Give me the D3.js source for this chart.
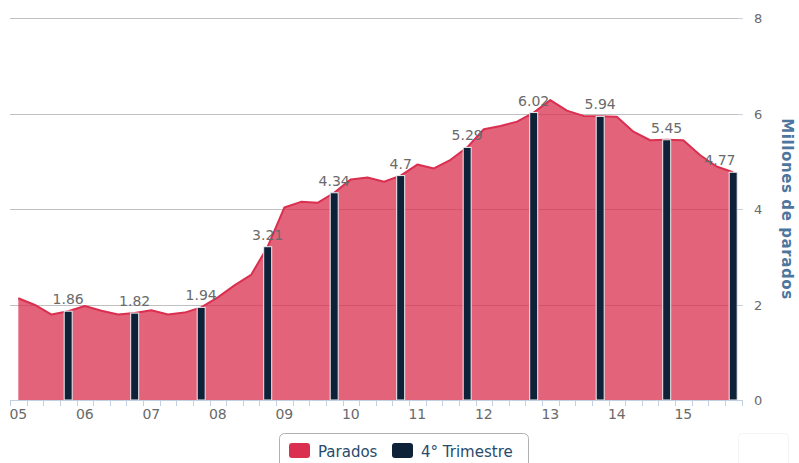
<!DOCTYPE html>
<html>
<head>
<meta charset="utf-8">
<script src="https://cdn.jsdelivr.net/npm/d3@7"></script>
<style>
  body { margin: 0; background: #fff; }
  svg { font-family: "DejaVu Sans", Verdana, sans-serif; }
</style>
</head>
<body>
<svg width="799" height="463"></svg>
<script>
// years shown on the axis
var years = ["05", "06", "07", "08", "09", "10", "11", "12", "13", "14", "15"];
var quarters = ["1", "2", "3", "4"];

// Parados (millones), one value per quarter
var parados = [
  2.13, 1.99, 1.79, 1.86,
  1.97, 1.87, 1.79, 1.82,
  1.88, 1.79, 1.83, 1.94,
  2.15, 2.40, 2.62, 3.21,
  4.03, 4.15, 4.13, 4.34,
  4.62, 4.66, 4.57, 4.70,
  4.93, 4.85, 5.03, 5.29,
  5.67, 5.74, 5.83, 6.02,
  6.28, 6.06, 5.95, 5.94,
  5.93, 5.62, 5.44, 5.45,
  5.44, 5.13, 4.89, 4.77
];

// 4º trimestre values (labels over the bars)
var cuartoTrim = [1.86, 1.82, 1.94, 3.21, 4.34, 4.7, 5.29, 6.02, 5.94, 5.45, 4.77];

var yTicks = [0, 2, 4, 6, 8];

var cats = [];
years.forEach(function(y) { quarters.forEach(function(q) { cats.push(y + "T" + q); }); });

var svg = d3.select("svg"),
    pLeft = 10, pRight = 741.5, pTop = 18, pBottom = 400;

var x = d3.scaleBand().domain(cats).range([pLeft, pRight]);
var y = d3.scaleLinear().domain([0, 8]).range([pBottom, pTop]);
var cx = function(c) { return x(c) + x.bandwidth() / 2; };

// grid lines
svg.append("g").selectAll("line")
    .data(yTicks.filter(function(d) { return d > 0; }))
    .enter().append("line")
    .attr("x1", pLeft).attr("x2", pRight + 1)
    .attr("y1", function(d) { return Math.round(y(d)) + 0.5; })
    .attr("y2", function(d) { return Math.round(y(d)) + 0.5; })
    .attr("stroke", "#c0c0c0").attr("stroke-width", 1);

// area + line
var pts = parados.map(function(v, i) { return {c: cats[i], v: v}; });
var area = d3.area()
    .x(function(d) { return cx(d.c); })
    .y0(y(0))
    .y1(function(d) { return y(d.v); });
var line = d3.line()
    .x(function(d) { return cx(d.c); })
    .y(function(d) { return y(d.v); });

svg.append("path").datum(pts)
    .attr("fill", "#da2f4f").attr("fill-opacity", 0.75)
    .attr("d", area);
svg.append("path").datum(pts)
    .attr("fill", "none").attr("stroke", "#da2f4f")
    .attr("stroke-width", 2).attr("stroke-linejoin", "round")
    .attr("d", line);

// 4th quarter bars
var bars = cuartoTrim.map(function(v, i) { return {c: years[i] + "T4", v: v}; });
var bw = 8;
svg.append("g").selectAll("rect")
    .data(bars)
    .enter().append("rect")
    .attr("x", function(d) { return cx(d.c) - bw / 2; })
    .attr("y", function(d) { return y(d.v); })
    .attr("width", bw)
    .attr("height", function(d) { return y(0) - y(d.v); })
    .attr("fill", "#0d2239")
    .attr("stroke", "#eeeeee").attr("stroke-width", 1);

// data labels
svg.append("g").selectAll("text")
    .data(bars)
    .enter().append("text")
    .attr("x", function(d) { return cx(d.c); })
    .attr("y", function(d) { return y(d.v) - 7; })
    .attr("text-anchor", "middle")
    .attr("font-size", 14)
    .attr("fill", "#6a6a6a")
    .text(function(d) { return String(d.v); })
    .each(function() {
      // keep label inside plot
      var w = this.getComputedTextLength(), px = +this.getAttribute("x");
      if (px + w / 2 > pRight - 6) this.setAttribute("x", pRight - 6 - w / 2);
    });

// x axis
var xa = svg.append("g").attr("transform", "translate(0," + pBottom + ")");
xa.append("line").attr("x1", pLeft).attr("x2", pRight + 1)
    .attr("y1", 0.5).attr("y2", 0.5).attr("stroke", "#c0d0e0");
xa.selectAll(".tk").data(cats.concat(["end"]))
    .enter().append("line")
    .attr("x1", function(d) { return Math.round(d === "end" ? pRight : x(d)) + 0.5; })
    .attr("x2", function(d) { return Math.round(d === "end" ? pRight : x(d)) + 0.5; })
    .attr("y1", 0).attr("y2", 6)
    .attr("stroke", "#c0d0e0");
xa.selectAll("text").data(years)
    .enter().append("text")
    .attr("x", function(d) { return cx(d + "T1"); })
    .attr("y", 19)
    .attr("text-anchor", "middle")
    .attr("font-size", 14)
    .attr("fill", "#6a6a6a")
    .text(function(d) { return d; });

// y axis (right)
var ya = svg.append("g");
ya.selectAll("line").data(yTicks)
    .enter().append("line")
    .attr("x1", pRight - 4).attr("x2", pRight + 1)
    .attr("y1", function(d) { return Math.round(y(d)) + 0.5; })
    .attr("y2", function(d) { return Math.round(y(d)) + 0.5; })
    .attr("stroke", "#c0d0e0");
ya.selectAll("text").data(yTicks)
    .enter().append("text")
    .attr("x", 754)
    .attr("y", function(d) { return y(d) + 5; })
    .attr("font-size", 13)
    .attr("fill", "#6a6a6a")
    .text(function(d) { return d; });
svg.append("text")
    .attr("transform", "translate(782,209) rotate(90)")
    .attr("text-anchor", "middle")
    .attr("font-size", 15)
    .attr("letter-spacing", 0.6)
    .attr("font-weight", "bold")
    .attr("fill", "#4d759e")
    .text("Millones de parados");

// legend
var lg = svg.append("g");
lg.append("rect").attr("x", 279.5).attr("y", 433.5).attr("width", 249).attr("height", 40)
    .attr("rx", 5).attr("fill", "#fff").attr("stroke", "#b0b0b0");
var items = [{name: "Parados", color: "#da2f4f", x: 289}, {name: "4° Trimestre", color: "#0d2239", x: 392}];
items.forEach(function(it) {
  lg.append("rect").attr("x", it.x).attr("y", 443).attr("width", 21).attr("height", 15)
      .attr("rx", 3).attr("fill", it.color);
  lg.append("text").attr("x", it.x + 29).attr("y", 457)
      .attr("font-size", 15).attr("fill", "#274b6d").text(it.name);
});

// faint button at bottom right
svg.append("rect").attr("x", 738.5).attr("y", 433.5).attr("width", 50).attr("height", 40)
    .attr("rx", 4).attr("fill", "none").attr("stroke", "#f4f4f4");
</script>
</body>
</html>
